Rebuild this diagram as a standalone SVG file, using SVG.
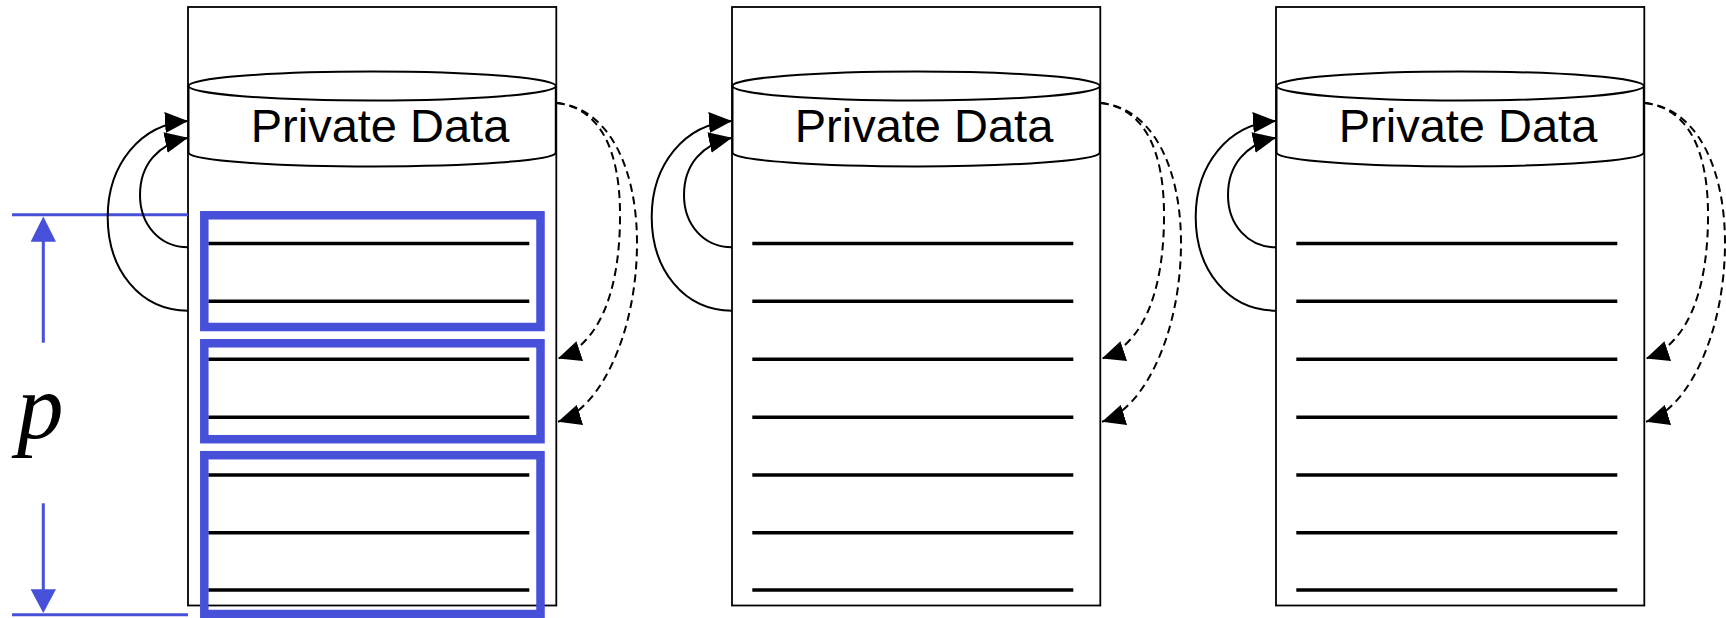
<svg xmlns="http://www.w3.org/2000/svg" width="1726" height="618" viewBox="0 0 1726 618">
  <style>
    .frame { fill: #ffffff; stroke: #000000; stroke-width: 1.8; }
    .cyl { fill: #ffffff; stroke: #000000; stroke-width: 2; }
    .title { font-family: "Liberation Sans", Arial, sans-serif; font-size: 47px; fill: #000000; }
    .slot { stroke: #000000; stroke-width: 3.5; }
    .part { fill: none; stroke: #4650D8; stroke-width: 8.5; }
    .dim { stroke: #4650D8; stroke-width: 3; fill: none; }
    .loop { fill: none; stroke: #000000; stroke-width: 2; marker-end: url(#head); }
    .send { fill: none; stroke: #000000; stroke-width: 2; stroke-dasharray: 8 5; marker-end: url(#head); }
    .sym { font-family: "Liberation Serif", "Times New Roman", serif; font-style: italic; font-size: 93px; fill: #000000; }
  </style>
  <defs>
    <marker id="head" markerUnits="userSpaceOnUse" markerWidth="23" markerHeight="21" refX="23" refY="10.5" orient="auto" viewBox="0 0 23 21">
      <path d="M0,0 L23,10.5 L0,21 Z" fill="#000000"/>
    </marker>
    <!-- one process: frame, private-data store and seven memory slots -->
    <g id="proc">
      <rect class="frame" x="188" y="7" width="368.3" height="598.5"/>
      <path class="cyl" d="M188.5,86 L188.5,153 A183.8,14 0 0 0 555.8,153 L555.8,86"/>
      <ellipse class="cyl" cx="372.2" cy="86" rx="183.7" ry="14.5"/>
      <text class="title" x="250.7" y="141.7">Private Data</text>
      <line class="slot" x1="208.3" y1="243.5" x2="529.3" y2="243.5"/>
      <line class="slot" x1="208.3" y1="301.3" x2="529.3" y2="301.3"/>
      <line class="slot" x1="208.3" y1="359.2" x2="529.3" y2="359.2"/>
      <line class="slot" x1="208.3" y1="417.3" x2="529.3" y2="417.3"/>
      <line class="slot" x1="208.3" y1="475" x2="529.3" y2="475"/>
      <line class="slot" x1="208.3" y1="532.8" x2="529.3" y2="532.8"/>
      <line class="slot" x1="208.3" y1="590" x2="529.3" y2="590"/>
    </g>
    <!-- self-referencing and outgoing links of one process -->
    <g id="links">
      <path class="loop" d="M188,247.3 C160,247.3 140,225 140,195 C140,165 158,144 188,137.7"/>
      <path class="loop" d="M188,310.7 C140,310.7 107.7,270 107.7,217 C107.7,165 140,124 188,121"/>
      <path class="send" d="M556.7,103 C600,108 621,150 620,220 C619,300 595,346 558,358.5"/>
      <path class="send" d="M556.7,103 C610,108 637,170 637,243 C637,330 602,408 558,421.7"/>
    </g>
  </defs>

  <g id="process-1"><use href="#proc"/></g>
  <g id="process-2"><use href="#proc" transform="translate(544,0)"/></g>
  <g id="process-3"><use href="#proc" transform="translate(1088,0)"/></g>

  <!-- partitions of the first process -->
  <g id="partitions">
    <rect class="part" x="204.3" y="215.3" width="336.2" height="111.7"/>
    <rect class="part" x="204.3" y="343.3" width="336.2" height="95.9"/>
    <rect class="part" x="204.3" y="455.2" width="336.2" height="158.8"/>
  </g>

  <!-- extent marker p -->
  <g id="extent">
    <line class="dim" x1="12" y1="214.8" x2="188" y2="214.8"/>
    <line class="dim" x1="12" y1="614.8" x2="188" y2="614.8"/>
    <line class="dim" x1="43.3" y1="238" x2="43.3" y2="342.7"/>
    <line class="dim" x1="43.3" y1="503.3" x2="43.3" y2="592"/>
    <path d="M43.3,216.5 L56,241.7 L30.6,241.7 Z" fill="#4650D8"/>
    <path d="M43.3,613 L56,589.3 L30.6,589.3 Z" fill="#4650D8"/>
    <text class="sym" x="17" y="437.5">p</text>
  </g>

  <g id="connectors">
    <use href="#links"/>
    <use href="#links" transform="translate(544,0)"/>
    <use href="#links" transform="translate(1088,0)"/>
  </g>
</svg>
